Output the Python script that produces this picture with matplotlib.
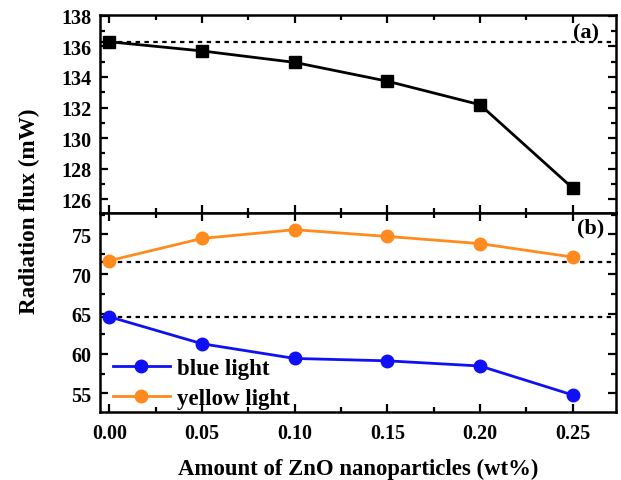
import matplotlib
matplotlib.use("Agg")
import matplotlib.pyplot as plt
from matplotlib.ticker import MultipleLocator, FormatStrFormatter

plt.rcParams['font.family'] = ['Liberation Serif', 'DejaVu Serif']
plt.rcParams['font.weight'] = 'bold'

# ZnO loading (wt%)
zno_wt = [0.00, 0.05, 0.10, 0.15, 0.20, 0.25]
# total radiation flux (mW)
total_flux = [136.3, 135.7, 134.95, 133.72, 132.18, 126.72]
# component fluxes (mW)
blue_flux = [64.65, 61.25, 59.4, 59.1, 58.45, 54.8]
yellow_flux = [71.7, 74.5, 75.6, 74.75, 73.85, 72.15]
# reference levels (undoped)
ref_total = 136.3
ref_yellow = 71.55
ref_blue = 64.65

W, H = 621, 481
fig = plt.figure(figsize=(W / 100, H / 100), dpi=100)

left, right = 100 / W, 616 / W
ax_a = fig.add_axes([left, 1 - 214 / H, right - left, (214 - 16) / H])
ax_b = fig.add_axes([left, 1 - 412.7 / H, right - left, (412.7 - 214) / H])

dot = (0, (2, 2))
ax_a.axhline(ref_total, color='black', lw=1.6, ls=dot, zorder=1)
ax_a.plot(zno_wt, total_flux, color='black', lw=2, marker='s', ms=8.5, zorder=3)

ax_b.axhline(ref_yellow, color='black', lw=1.6, ls=dot, zorder=1)
ax_b.axhline(ref_blue, color='black', lw=1.6, ls=dot, zorder=1)
ax_b.plot(zno_wt, blue_flux, color='#1010F5', lw=2, marker='o', ms=9,
          label='blue light', zorder=3)
ax_b.plot(zno_wt, yellow_flux, color='#FF8A1E', lw=2, marker='o', ms=9,
          label='yellow light', zorder=3)

xlim = (-0.005, 0.2733)
for ax in (ax_a, ax_b):
    ax.set_xlim(*xlim)
    ax.xaxis.set_major_locator(MultipleLocator(0.05))
    ax.xaxis.set_minor_locator(MultipleLocator(0.025))
    ax.tick_params(which='both', direction='in', top=True, right=True,
                   width=1.6, labelsize=14.5)
    ax.tick_params(which='major', length=6)
    ax.tick_params(which='minor', length=3.5)
    ax.tick_params(axis='y', pad=6)
    for s in ax.spines.values():
        s.set_linewidth(1.8)

ax_a.set_ylim(125.1, 138.05)
ax_a.yaxis.set_major_locator(MultipleLocator(2))
ax_a.yaxis.set_minor_locator(MultipleLocator(1))
ax_a.tick_params(axis='x', labelbottom=False)

ax_b.set_ylim(52.7, 77.7)
ax_b.yaxis.set_major_locator(MultipleLocator(5))
ax_b.yaxis.set_minor_locator(MultipleLocator(2.5))
ax_b.xaxis.set_major_formatter(FormatStrFormatter('%.2f'))
ax_b.tick_params(axis='x', pad=8)

for ax in (ax_a, ax_b):
    for lab in ax.get_xticklabels() + ax.get_yticklabels():
        lab.set_fontweight('bold')

ax_a.text(0.967, 0.96, '(a)', transform=ax_a.transAxes, ha='right', va='top',
          fontsize=16, fontweight='bold')
ax_b.text(0.977, 0.975, '(b)', transform=ax_b.transAxes, ha='right', va='top',
          fontsize=16, fontweight='bold')

leg = ax_b.legend(loc='lower left', bbox_to_anchor=(0.007, -0.035), frameon=False,
                  fontsize=16.5, handlelength=2.5, handletextpad=0.3,
                  labelspacing=0.4, borderaxespad=0.0)

ax_b.set_xlabel('Amount of ZnO nanoparticles (wt%)', fontsize=16.4,
                fontweight='bold', labelpad=11)
fig.text(29 / W, 1 - 211.5 / H, 'Radiation flux (mW)', rotation=90, ha='center',
         va='center', fontsize=16.7, fontweight='bold')

fig.savefig('out.png', dpi=100)
